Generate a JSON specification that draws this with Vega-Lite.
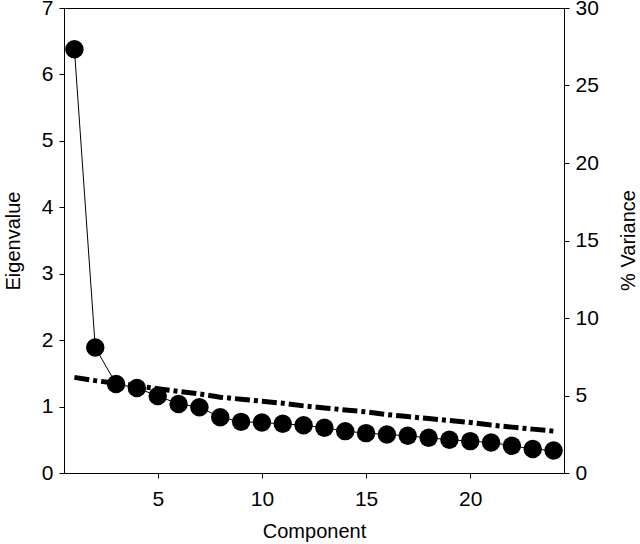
{
  "$schema": "https://vega.github.io/schema/vega-lite/v6.json",
  "width": 500,
  "height": 465,
  "padding": {"left": 64, "top": 8, "right": 76, "bottom": 71},
  "autosize": {"type": "none"},
  "background": "white",
  "config": {
    "view": {"stroke": "black", "strokeWidth": 1},
    "font": "Liberation Sans",
    "axis": {
      "domainColor": "black",
      "tickColor": "black",
      "tickSize": 5,
      "grid": false,
      "labelFontSize": 21,
      "labelColor": "black",
      "titleFontSize": 20,
      "titleFontWeight": "normal",
      "titleColor": "black",
      "labelFont": "Liberation Sans",
      "titleFont": "Liberation Sans",
      "format": "d"
    }
  },
  "datasets": {
    "eig": [
      {"component": 1, "eigenvalue": 6.38},
      {"component": 2, "eigenvalue": 1.89},
      {"component": 3, "eigenvalue": 1.34},
      {"component": 4, "eigenvalue": 1.28},
      {"component": 5, "eigenvalue": 1.16},
      {"component": 6, "eigenvalue": 1.04},
      {"component": 7, "eigenvalue": 0.99},
      {"component": 8, "eigenvalue": 0.84},
      {"component": 9, "eigenvalue": 0.77},
      {"component": 10, "eigenvalue": 0.76},
      {"component": 11, "eigenvalue": 0.74},
      {"component": 12, "eigenvalue": 0.72},
      {"component": 13, "eigenvalue": 0.68},
      {"component": 14, "eigenvalue": 0.63},
      {"component": 15, "eigenvalue": 0.6},
      {"component": 16, "eigenvalue": 0.58},
      {"component": 17, "eigenvalue": 0.56},
      {"component": 18, "eigenvalue": 0.53},
      {"component": 19, "eigenvalue": 0.5},
      {"component": 20, "eigenvalue": 0.48},
      {"component": 21, "eigenvalue": 0.46},
      {"component": 22, "eigenvalue": 0.41},
      {"component": 23, "eigenvalue": 0.36},
      {"component": 24, "eigenvalue": 0.34}
    ],
    "pct": [
      {"component": 1, "variance": 6.17},
      {"component": 2, "variance": 5.96},
      {"component": 3, "variance": 5.79},
      {"component": 4, "variance": 5.61},
      {"component": 5, "variance": 5.44},
      {"component": 6, "variance": 5.27},
      {"component": 7, "variance": 5.1},
      {"component": 8, "variance": 4.89},
      {"component": 9, "variance": 4.76},
      {"component": 10, "variance": 4.63},
      {"component": 11, "variance": 4.5},
      {"component": 12, "variance": 4.33},
      {"component": 13, "variance": 4.2},
      {"component": 14, "variance": 4.07},
      {"component": 15, "variance": 3.94},
      {"component": 16, "variance": 3.77},
      {"component": 17, "variance": 3.64},
      {"component": 18, "variance": 3.51},
      {"component": 19, "variance": 3.39},
      {"component": 20, "variance": 3.26},
      {"component": 21, "variance": 3.09},
      {"component": 22, "variance": 2.96},
      {"component": 23, "variance": 2.83},
      {"component": 24, "variance": 2.7}
    ]
  },
  "encoding": {
    "x": {
      "field": "component",
      "type": "quantitative",
      "scale": {"domain": [0.5, 24.5], "nice": false, "zero": false},
      "axis": {"values": [5, 10, 15, 20], "title": "Component", "labelPadding": 10, "titlePadding": 12}
    }
  },
  "layer": [
    {
      "layer": [
        {
          "data": {"name": "eig"},
          "mark": {"type": "line", "color": "black", "strokeWidth": 1},
          "encoding": {
            "y": {
              "field": "eigenvalue",
              "type": "quantitative",
              "scale": {"domain": [0, 7], "nice": false},
              "axis": {"values": [0, 1, 2, 3, 4, 5, 6, 7], "title": "Eigenvalue", "labelPadding": 6, "titlePadding": 18}
            }
          }
        },
        {
          "data": {"name": "eig"},
          "mark": {"type": "point", "shape": "circle", "filled": true, "color": "black", "opacity": 1, "size": 340},
          "encoding": {
            "y": {"field": "eigenvalue", "type": "quantitative"}
          }
        }
      ]
    },
    {
      "data": {"name": "pct"},
      "mark": {"type": "line", "color": "black", "strokeWidth": 5, "strokeDash": [15, 4, 4, 4], "strokeCap": "butt"},
      "encoding": {
        "y": {
          "field": "variance",
          "type": "quantitative",
          "scale": {"domain": [0, 30], "nice": false},
          "axis": {"orient": "right", "values": [0, 5, 10, 15, 20, 25, 30], "title": "% Variance", "titleAngle": 270, "titleX": 64, "titleY": 232, "titleAlign": "center", "titleBaseline": "middle", "labelPadding": 6}
        }
      }
    }
  ],
  "resolve": {"scale": {"y": "independent"}}
}
